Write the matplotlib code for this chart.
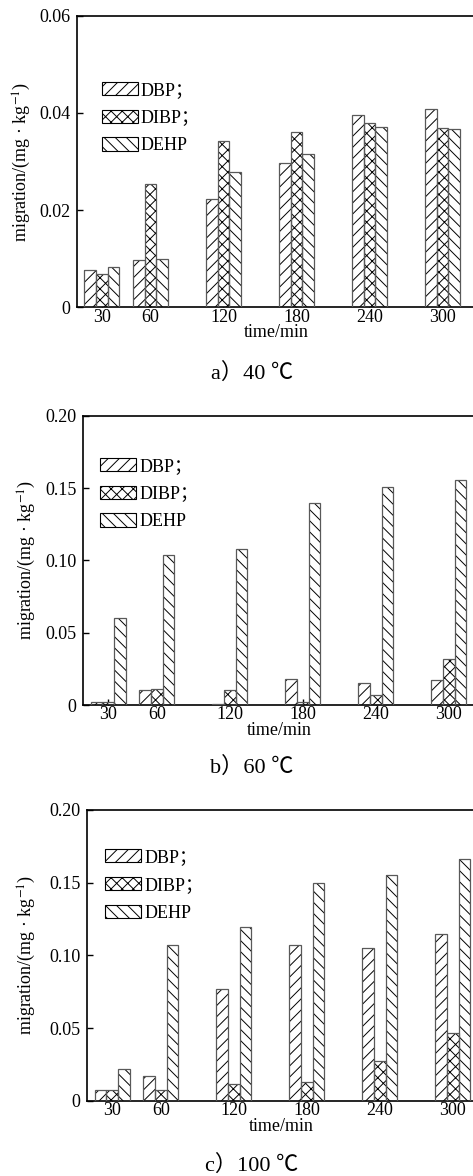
import matplotlib
matplotlib.use("Agg")
import matplotlib.pyplot as plt
from matplotlib.patches import Patch
import numpy as np

plt.rcParams['font.family'] = ['Liberation Serif', 'Noto Sans CJK SC', 'DejaVu Sans']
plt.rcParams['mathtext.fontset'] = 'stix'
plt.rcParams['hatch.linewidth'] = 0.7

# ---------------- data ----------------
times = ["30", "60", "120", "180", "240", "300"]
series = ["DBP；", "DIBP；", "DEHP"]

dbp_40 = [0.0077, 0.0097, 0.0222, 0.0296, 0.0395, 0.0409]
dibp_40 = [0.0069, 0.0253, 0.0342, 0.0360, 0.0379, 0.0368]
dehp_40 = [0.0082, 0.0099, 0.0278, 0.0315, 0.0372, 0.0366]

dbp_60 = [0.0020, 0.0101, 0.0010, 0.0177, 0.0154, 0.0171]
dibp_60 = [0.0023, 0.0108, 0.0101, 0.0023, 0.0071, 0.0318]
dehp_60 = [0.0599, 0.1035, 0.1078, 0.1394, 0.1505, 0.1558]

dbp_100 = [0.0073, 0.0170, 0.0771, 0.1069, 0.1053, 0.1147]
dibp_100 = [0.0073, 0.0073, 0.0112, 0.0126, 0.0273, 0.0463]
dehp_100 = [0.0220, 0.1069, 0.1193, 0.1495, 0.1550, 0.1665]

yticks_40 = [0, 0.02, 0.04, 0.06]
ylabels_40 = ["0", "0.02", "0.04", "0.06"]
yticks_hi = [0, 0.05, 0.10, 0.15, 0.20]
ylabels_hi = ["0", "0.05", "0.10", "0.15", "0.20"]

captions = ["a）40 ℃", "b）60 ℃", "c）100 ℃"]

# ---------------- layout ----------------
W, H = 473, 1176
fig = plt.figure(figsize=(W / 100, H / 100), dpi=100)

group_pos = np.array([0, 2 / 3, 5 / 3, 8 / 3, 11 / 3, 14 / 3])
unit_px = 73.0
bar_w = 0.159
hatches = ['///', 'xxx', '\\\\\\']

panels = [
    dict(left=77, top=15.7, bottom=307.3, data=(dbp_40, dibp_40, dehp_40),
         ymax=0.06, yt=yticks_40, yl=ylabels_40, leg=(25, 66), ylx=22, capy=373),
    dict(left=83.3, top=415.7, bottom=705, data=(dbp_60, dibp_60, dehp_60),
         ymax=0.20, yt=yticks_hi, yl=ylabels_hi, leg=(17, 42), ylx=27, capy=767),
    dict(left=87.3, top=810, bottom=1100.7, data=(dbp_100, dibp_100, dehp_100),
         ymax=0.20, yt=yticks_hi, yl=ylabels_hi, leg=(18, 39), ylx=27, capy=1165),
]

for p, cap in zip(panels, captions):
    wpx = W + 2 - p['left']
    hpx = p['bottom'] - p['top']
    ax = fig.add_axes([p['left'] / W, 1 - p['bottom'] / H, wpx / W, hpx / H])
    x0 = -0.34
    ax.set_xlim(x0, x0 + wpx / unit_px)
    ax.set_ylim(0, p['ymax'])

    for i, (vals, h) in enumerate(zip(p['data'], hatches)):
        xs = group_pos + (i - 1) * bar_w
        ax.bar(xs, vals, width=bar_w, facecolor='white', edgecolor='black',
               hatch=h, linewidth=0, zorder=2)
        ax.bar(xs, vals, width=bar_w, fill=False, edgecolor='0.35',
               linewidth=0.9, zorder=3)

    ax.set_xticks(group_pos)
    ax.set_xticklabels(times)
    ax.set_yticks(p['yt'])
    ax.set_yticklabels(p['yl'])
    ax.tick_params(direction='in', length=4, width=1.0, labelsize=13, pad=3)
    ax.tick_params(axis='y', pad=5)
    ax.tick_params(axis='x', pad=1)
    ax.spines['right'].set_visible(False)
    for s in ['left', 'bottom', 'top']:
        ax.spines[s].set_linewidth(1.2)
    ax.set_xlabel("time/min", fontsize=13, labelpad=-1)
    ax.set_ylabel("migration/(mg · kg$^{-1}$)", fontsize=13, va='center')
    ax.yaxis.set_label_coords((p['ylx'] - p['left']) / wpx, 0.5)

    handles = [Patch(facecolor='white', edgecolor='black', hatch=h, linewidth=0.8)
               for h in hatches]
    lx = p['leg'][0] / wpx
    ly = 1 - p['leg'][1] / hpx
    ax.legend(handles, series, loc='upper left', bbox_to_anchor=(lx, ly),
              frameon=False, fontsize=13, borderpad=0, borderaxespad=0,
              handlelength=2.0, handleheight=0.75, handletextpad=0.15,
              labelspacing=0.6)

    fig.text(252 / W, 1 - p['capy'] / H, cap, ha='center', va='center', fontsize=16)

fig.savefig("out.png", dpi=100)
